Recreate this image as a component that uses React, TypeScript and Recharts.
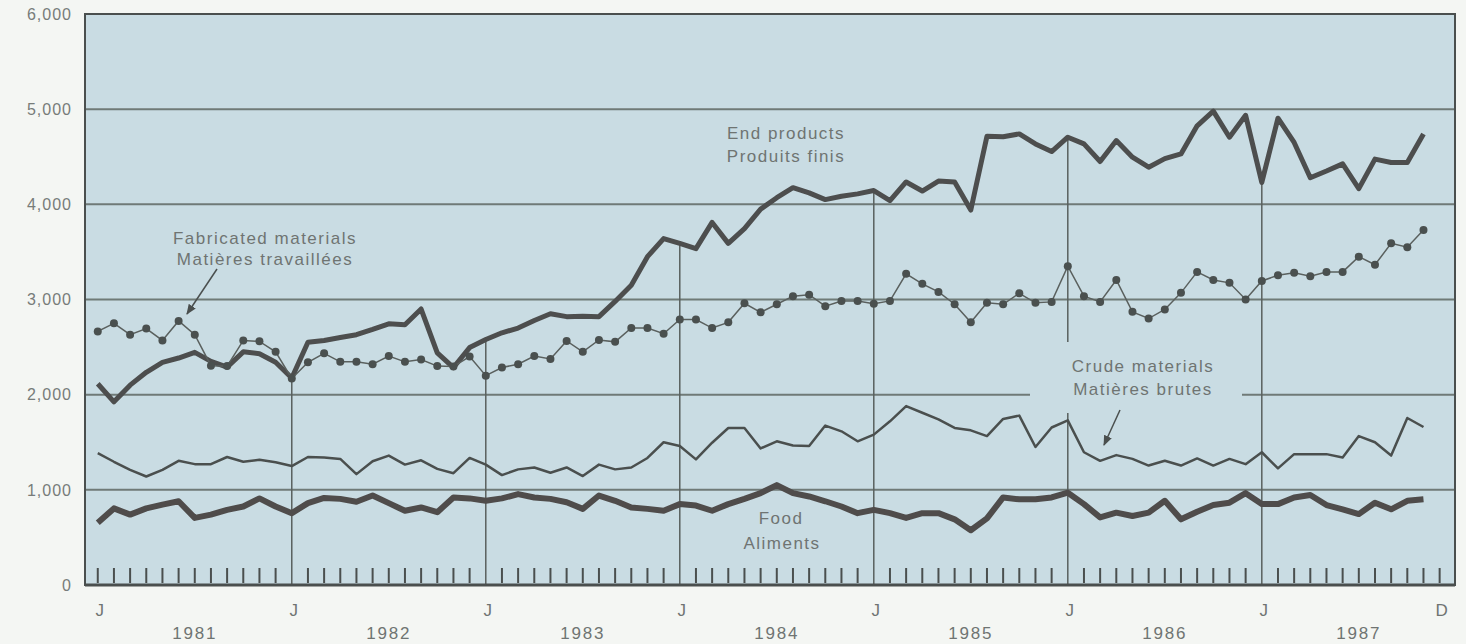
import React from "react";
import { LineChart, Line, XAxis, YAxis, CartesianGrid, ReferenceLine } from "recharts";

// monthly values, Jan 1981 .. Nov 1987
const endProducts = [
  2115, 1925, 2100, 2235, 2340, 2385, 2445, 2350, 2290, 2450, 2430, 2340,
  2175, 2550, 2570, 2600, 2630, 2685, 2745, 2735, 2900, 2440, 2285, 2495,
  2580, 2650, 2700, 2780, 2850, 2820, 2825, 2820, 2980, 3150, 3450, 3640,
  3590, 3535, 3810, 3590, 3745, 3950, 4070, 4175, 4120, 4050, 4085, 4110,
  4145, 4040, 4235, 4140, 4245, 4235, 3940, 4715, 4710, 4740, 4635, 4555,
  4705, 4635, 4450, 4670, 4495, 4390, 4480, 4530, 4825, 4980, 4705, 4935,
  4230, 4905, 4650, 4280, 4350, 4425, 4165, 4475, 4440, 4440, 4740,
];
const fabricated = [
  2665, 2750, 2630, 2695, 2570, 2775, 2630, 2305, 2300, 2570, 2560, 2450,
  2170, 2340, 2435, 2345, 2345, 2320, 2405, 2345, 2370, 2300, 2295, 2400,
  2200, 2285, 2320, 2405, 2375, 2565, 2450, 2575, 2555, 2700, 2700, 2640,
  2790, 2790, 2700, 2760, 2960, 2865, 2950, 3035, 3050, 2930, 2985, 2985,
  2955, 2985, 3270, 3165, 3080, 2950, 2760, 2965, 2950, 3065, 2965, 2975,
  3350, 3035, 2975, 3205, 2870, 2800, 2895, 3070, 3290, 3205, 3175, 3000,
  3195, 3255, 3280, 3245, 3290, 3290, 3450, 3365, 3590, 3550, 3730,
];
const crude = [
  1385, 1295, 1210, 1140, 1210, 1305, 1270, 1270, 1345, 1295, 1315, 1290,
  1250, 1345, 1340, 1325, 1165, 1300, 1360, 1265, 1310, 1220, 1175, 1335,
  1265, 1155, 1215, 1235, 1180, 1235, 1145, 1265, 1215, 1235, 1335, 1500,
  1460, 1320, 1495, 1650, 1650, 1435, 1510, 1465, 1460, 1675, 1615, 1510,
  1580, 1720, 1880, 1810, 1740, 1650, 1625, 1565, 1745, 1780, 1450, 1655,
  1730, 1395, 1305, 1365, 1325, 1255, 1305, 1255, 1330, 1255, 1325, 1270,
  1395, 1225, 1375, 1375, 1375, 1340, 1565, 1500, 1360, 1755, 1660,
];
const food = [
  655, 805, 740, 805, 845, 880, 705, 740, 790, 825, 910, 825,
  755, 860, 915, 905, 875, 940, 860, 780, 815, 765, 920, 910,
  885, 910, 955, 920, 905, 870, 800, 940, 885, 815, 800, 780,
  850, 835, 780, 850, 905, 965, 1050, 965, 930, 880, 825, 755,
  790, 755, 705, 755, 755, 690, 575, 700, 920, 900, 900, 920,
  970, 850, 710, 760, 725, 760, 885, 690, 770, 840, 865, 965,
  850, 850, 920, 945, 840, 795, 745, 865, 795, 885, 900,
];

const years = ["1981", "1982", "1983", "1984", "1985", "1986", "1987"];
const yTicks = [0, 1000, 2000, 3000, 4000, 5000, 6000];
const monthTicks = Array.from({ length: 84 }, (_, i) => i);
const janIdx = [12, 24, 36, 48, 60, 72];

const data = endProducts.map((v, i) => ({
  m: i,
  end: v,
  fab: fabricated[i],
  crude: crude[i],
  food: food[i],
}));

const FONT = "'Liberation Sans', Arial, sans-serif";
const INK = "#4a4f4e";
const TEXT = "#6f7472";
const PLOT_BG = "#c9dce3";
const PAGE_BG = "#f4f6f3";

function MonthTick(props: any) {
  const { x, y, payload } = props;
  const i = payload.value as number;
  let label = "";
  if (i % 12 === 0) label = "J";
  if (i === 83) label = "D";
  const year = i % 12 === 6 ? years[Math.floor(i / 12)] : "";
  return (
    <g>
      {i % 12 !== 0 || i === 0 ? (
        <line x1={x} x2={x} y1={y - 2} y2={y - 17} stroke={INK} strokeWidth={2} />
      ) : null}
      {label && (
        <text x={x + 2} y={y + 31} textAnchor="middle" fontSize={17} fill={TEXT} fontFamily={FONT}>
          {label}
        </text>
      )}
      {year && (
        <text x={x} y={y + 54} textAnchor="middle" fontSize={17} letterSpacing={1.8} fill={TEXT} fontFamily={FONT}>
          {year}
        </text>
      )}
    </g>
  );
}

function Labels() {
  const t = { fontSize: 17, letterSpacing: 1.5, fill: TEXT, fontFamily: FONT, textAnchor: "middle" as const };
  return (
    <svg width={1466} height={644} style={{ position: "absolute", left: 0, top: 0, pointerEvents: "none" }}>
      <defs>
        <marker id="arr" viewBox="0 0 10 10" refX="9" refY="5" markerWidth="7" markerHeight="7" orient="auto">
          <path d="M0,1 L10,5 L0,9 z" fill={INK} />
        </marker>
      </defs>
      <rect x={1030} y={342} width={212} height={71} fill={PLOT_BG} />
      <rect x={85} y={14} width={1370} height={571} fill="none" stroke={INK} strokeWidth={2} />
      <text x={786} y={139} {...t}>End products</text>
      <text x={786} y={162} {...t}>Produits finis</text>
      <text x={265} y={244} {...t}>Fabricated materials</text>
      <text x={265} y={265} {...t}>Matières travaillées</text>
      <text x={1143} y={372} {...t}>Crude materials</text>
      <text x={1143} y={395} {...t}>Matières brutes</text>
      <text x={781} y={524} {...t}>Food</text>
      <text x={782} y={549} {...t}>Aliments</text>
      <line x1={217} y1={269} x2={187} y2={314} stroke={INK} strokeWidth={1.5} markerEnd="url(#arr)" />
      <line x1={1120} y1={410} x2={1104} y2={445} stroke={INK} strokeWidth={1.5} markerEnd="url(#arr)" />
    </svg>
  );
}

export default function App() {
  return (
    <div style={{ position: "absolute", left: 0, top: 0, width: 1466, height: 644, background: PAGE_BG }}>
      <LineChart width={1466} height={644} data={data} margin={{ top: 14, right: 11, bottom: 0, left: 0 }}>
        <CartesianGrid vertical={false} fill={PLOT_BG} stroke="#6f7a77" strokeWidth={2} />
        <XAxis
          type="number"
          dataKey="m"
          domain={[-0.79, 83.95]}
          ticks={monthTicks}
          interval={0}
          allowDataOverflow
          height={59}
          tickLine={false}
          tickSize={0}
          tickMargin={0}
          axisLine={{ stroke: INK, strokeWidth: 3 }}
          tick={<MonthTick />}
        />
        <YAxis
          domain={[0, 6000]}
          ticks={yTicks}
          width={85}
          axisLine={false}
          tickLine={false}
          tickSize={0}
          tickMargin={13}
          tickFormatter={(v) => v.toLocaleString("en-US")}
          tick={{ fill: "#777c7a", fontSize: 16, fontFamily: FONT, letterSpacing: 1 }}
        />
        {janIdx.map((j) => (
          <ReferenceLine
            key={j}
            segment={[{ x: j, y: 0 }, { x: j, y: endProducts[j] }]}
            stroke="#59605e"
            strokeWidth={1.5}
          />
        ))}
        <Line dataKey="food" stroke="#4f4c4b" strokeWidth={6} dot={false} isAnimationActive={false} strokeLinejoin="round" />
        <Line dataKey="crude" stroke={INK} strokeWidth={2.5} dot={false} isAnimationActive={false} strokeLinejoin="round" />
        <Line dataKey="end" stroke="#4d4e4e" strokeWidth={5} dot={false} isAnimationActive={false} strokeLinejoin="round" />
        <Line
          dataKey="fab"
          stroke="#5a605e"
          strokeWidth={1.5}
          dot={{ r: 4, fill: "#4a504f", stroke: "none" }}
          isAnimationActive={false}
        />
      </LineChart>
      <Labels />
    </div>
  );
}
